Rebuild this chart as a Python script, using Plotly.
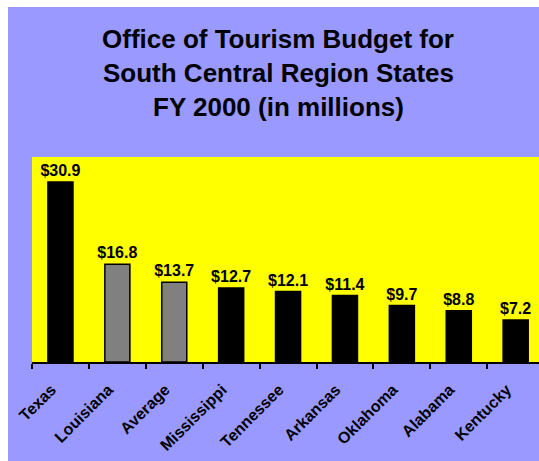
import plotly.graph_objects as go

# Office of Tourism budgets, FY 2000, in millions of dollars
states = ["Texas", "Louisiana", "Average", "Mississippi", "Tennessee",
          "Arkansas", "Oklahoma", "Alabama", "Kentucky"]
budgets = [30.9, 16.8, 13.7, 12.7, 12.1, 11.4, 9.7, 8.8, 7.2]
highlighted = ["Louisiana", "Average"]
title_lines = ["Office of Tourism Budget for",
               "South Central Region States",
               "FY 2000 (in millions)"]

W, H = 539, 461
L, R, T, B = 32, 0, 157, 99
plot_w, plot_h = W - L - R, H - T - B

FONT = "Arial, Liberation Sans, sans-serif"
PERIWINKLE = "#9999FF"
YELLOW = "#FFFF00"

bar_colors = ["#808080" if s in highlighted else "#000000" for s in states]

fig = go.Figure(
    go.Bar(
        x=states,
        y=budgets,
        width=0.44,
        marker=dict(color=bar_colors, line=dict(color="#000000", width=1.5)),
        text=[f"${v:.1f}" for v in budgets],
        textposition="outside",
        constraintext="none",
        cliponaxis=False,
        textfont=dict(family=FONT, size=16, color="#000000", weight="bold"),
        hoverinfo="skip",
    )
)


def px_to_paper_x(px):
    return (px - L) / plot_w


def px_to_paper_y(py):
    return 1 + (T - py) / plot_h


# three-line title with wider line spacing than Plotly's default
for i, line in enumerate(title_lines):
    fig.add_annotation(
        text=f"<b>{line}</b>",
        xref="paper", yref="paper",
        x=px_to_paper_x(278), y=px_to_paper_y(39 + 34 * i),
        xanchor="center", yanchor="middle",
        showarrow=False,
        font=dict(family=FONT, size=26, color="#000000"),
    )

# white strips along the left and top edges of the page
fig.add_shape(type="rect", xref="paper", yref="paper", layer="above",
              x0=px_to_paper_x(0), x1=px_to_paper_x(8),
              y0=px_to_paper_y(H + 5), y1=px_to_paper_y(-5),
              fillcolor="#FFFFFF", line_width=0)
fig.add_shape(type="rect", xref="paper", yref="paper", layer="above",
              x0=px_to_paper_x(0), x1=px_to_paper_x(W + 5),
              y0=px_to_paper_y(7), y1=px_to_paper_y(-5),
              fillcolor="#FFFFFF", line_width=0)

fig.update_xaxes(
    type="category",
    range=[-0.5, 8.41],
    tickson="boundaries",
    ticks="outside", ticklen=5, tickwidth=2, tickcolor="#000000",
    showline=True, linecolor="#000000", linewidth=2,
    showgrid=False, zeroline=False,
    tickangle=-45,
    ticklabelstandoff=10,
    ticklabelshift=-9,
    tickfont=dict(family=FONT, size=16, color="#000000", weight="bold"),
)
fig.update_yaxes(range=[0, 35.2], visible=False, showgrid=False, zeroline=False)

fig.update_layout(
    width=W, height=H,
    margin=dict(l=L, r=R, t=T, b=B, pad=0),
    paper_bgcolor=PERIWINKLE,
    plot_bgcolor=YELLOW,
    showlegend=False,
    bargap=0.56,
)

fig.write_html("out.html", config={"displayModeBar": False})
